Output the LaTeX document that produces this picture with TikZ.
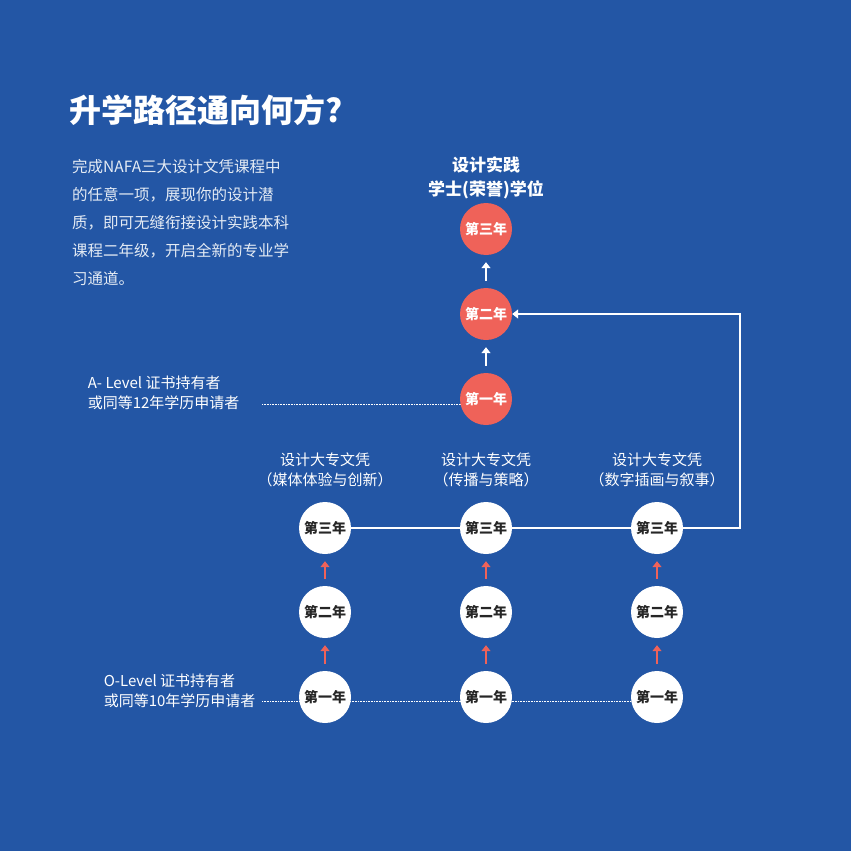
\documentclass[tikz,border=0pt]{standalone}
\usepackage{fontspec}
\setmainfont{Noto Sans CJK SC}
\usetikzlibrary{arrows.meta}
\definecolor{bg}{HTML}{2356A5}
\definecolor{rd}{HTML}{EF6259}
\begin{document}
\begin{tikzpicture}[x=1pt,y=-1pt,
 rc/.style={circle,fill=rd,minimum size=52pt,inner sep=0pt,text=white,font=\fontsize{14}{14}\selectfont\bfseries},
 wc/.style={circle,fill=white,minimum size=52pt,inner sep=0pt,text=black!85,font=\fontsize{14}{14}\selectfont\bfseries},
 lab/.style={text=white,align=center,font=\fontsize{15}{20}\selectfont},
 wa/.style={white,line width=1.3pt,-{Triangle[length=6pt,width=9pt]}},
 sa/.style={shorten <=7pt,shorten >=7pt},
 ra/.style={rd,line width=1.3pt,-{Triangle[length=6pt,width=9pt]}},
 dl/.style={white,densely dotted,line width=0.6pt}]
\fill[bg] (0,0) rectangle (851,851);
\coordinate (ad) at (262,404); \coordinate (ae) at (470,404);
\coordinate (od) at (262,701); \coordinate (oe) at (640,701);
\draw[dl] (ad) -- (ae);
\draw[dl] (od) -- (oe);
\node[anchor=west,text=white,font=\fontsize{32}{32}\selectfont\bfseries] (t) at (66,110) {升学路径通向何方?};
\node[anchor=north west,text=white!88!bg,align=left,font=\fontsize{15.5}{28}\selectfont,inner sep=0] (p) at (72,159) {完成NAFA三大设计文凭课程中\\的任意一项，展现你的设计潜\\质，即可无缝衔接设计实践本科\\课程二年级，开启全新的专业学\\习通道。};
\node[lab,font=\fontsize{17}{24}\selectfont\bfseries] (h) at (486,178) {设计实践\\学士(荣誉)学位};
\node[rc] (r3) at (486,229) {第三年};
\node[rc] (r2) at (486,314) {第二年};
\node[rc] (r1) at (486,399) {第一年};
\draw[wa,sa] (r2) -- (r3);
\draw[wa,sa] (r1) -- (r2);
\node[lab,anchor=east,align=left] (al) at (243,393) {A- Level 证书持有者\\或同等12年学历申请者};
\foreach \n/\x/\t in {a/325/媒体体验与创新,b/486/传播与策略,c/657/数字插画与叙事}{
 \node[lab] (l\n) at (\x,470) {设计大专文凭\\（\t）};
 \node[wc] (\n3) at (\x,528) {第三年};
 \node[wc] (\n2) at (\x,612) {第二年};
 \node[wc] (\n1) at (\x,697) {第一年};
 \draw[ra,sa] (\n2) -- (\n3);
 \draw[ra,sa] (\n1) -- (\n2);
}
\draw[white,line width=1.3pt] (a3) -- (b3) (b3) -- (c3);
\coordinate (k1) at (740,528); \coordinate (k2) at (740,314);
\draw[wa] (c3.east) -- (k1) -- (k2) -- (r2.east);
\node[lab,anchor=east,align=left] (ol) at (259,691) {O-Level 证书持有者\\或同等10年学历申请者};
\end{tikzpicture}
\end{document}
